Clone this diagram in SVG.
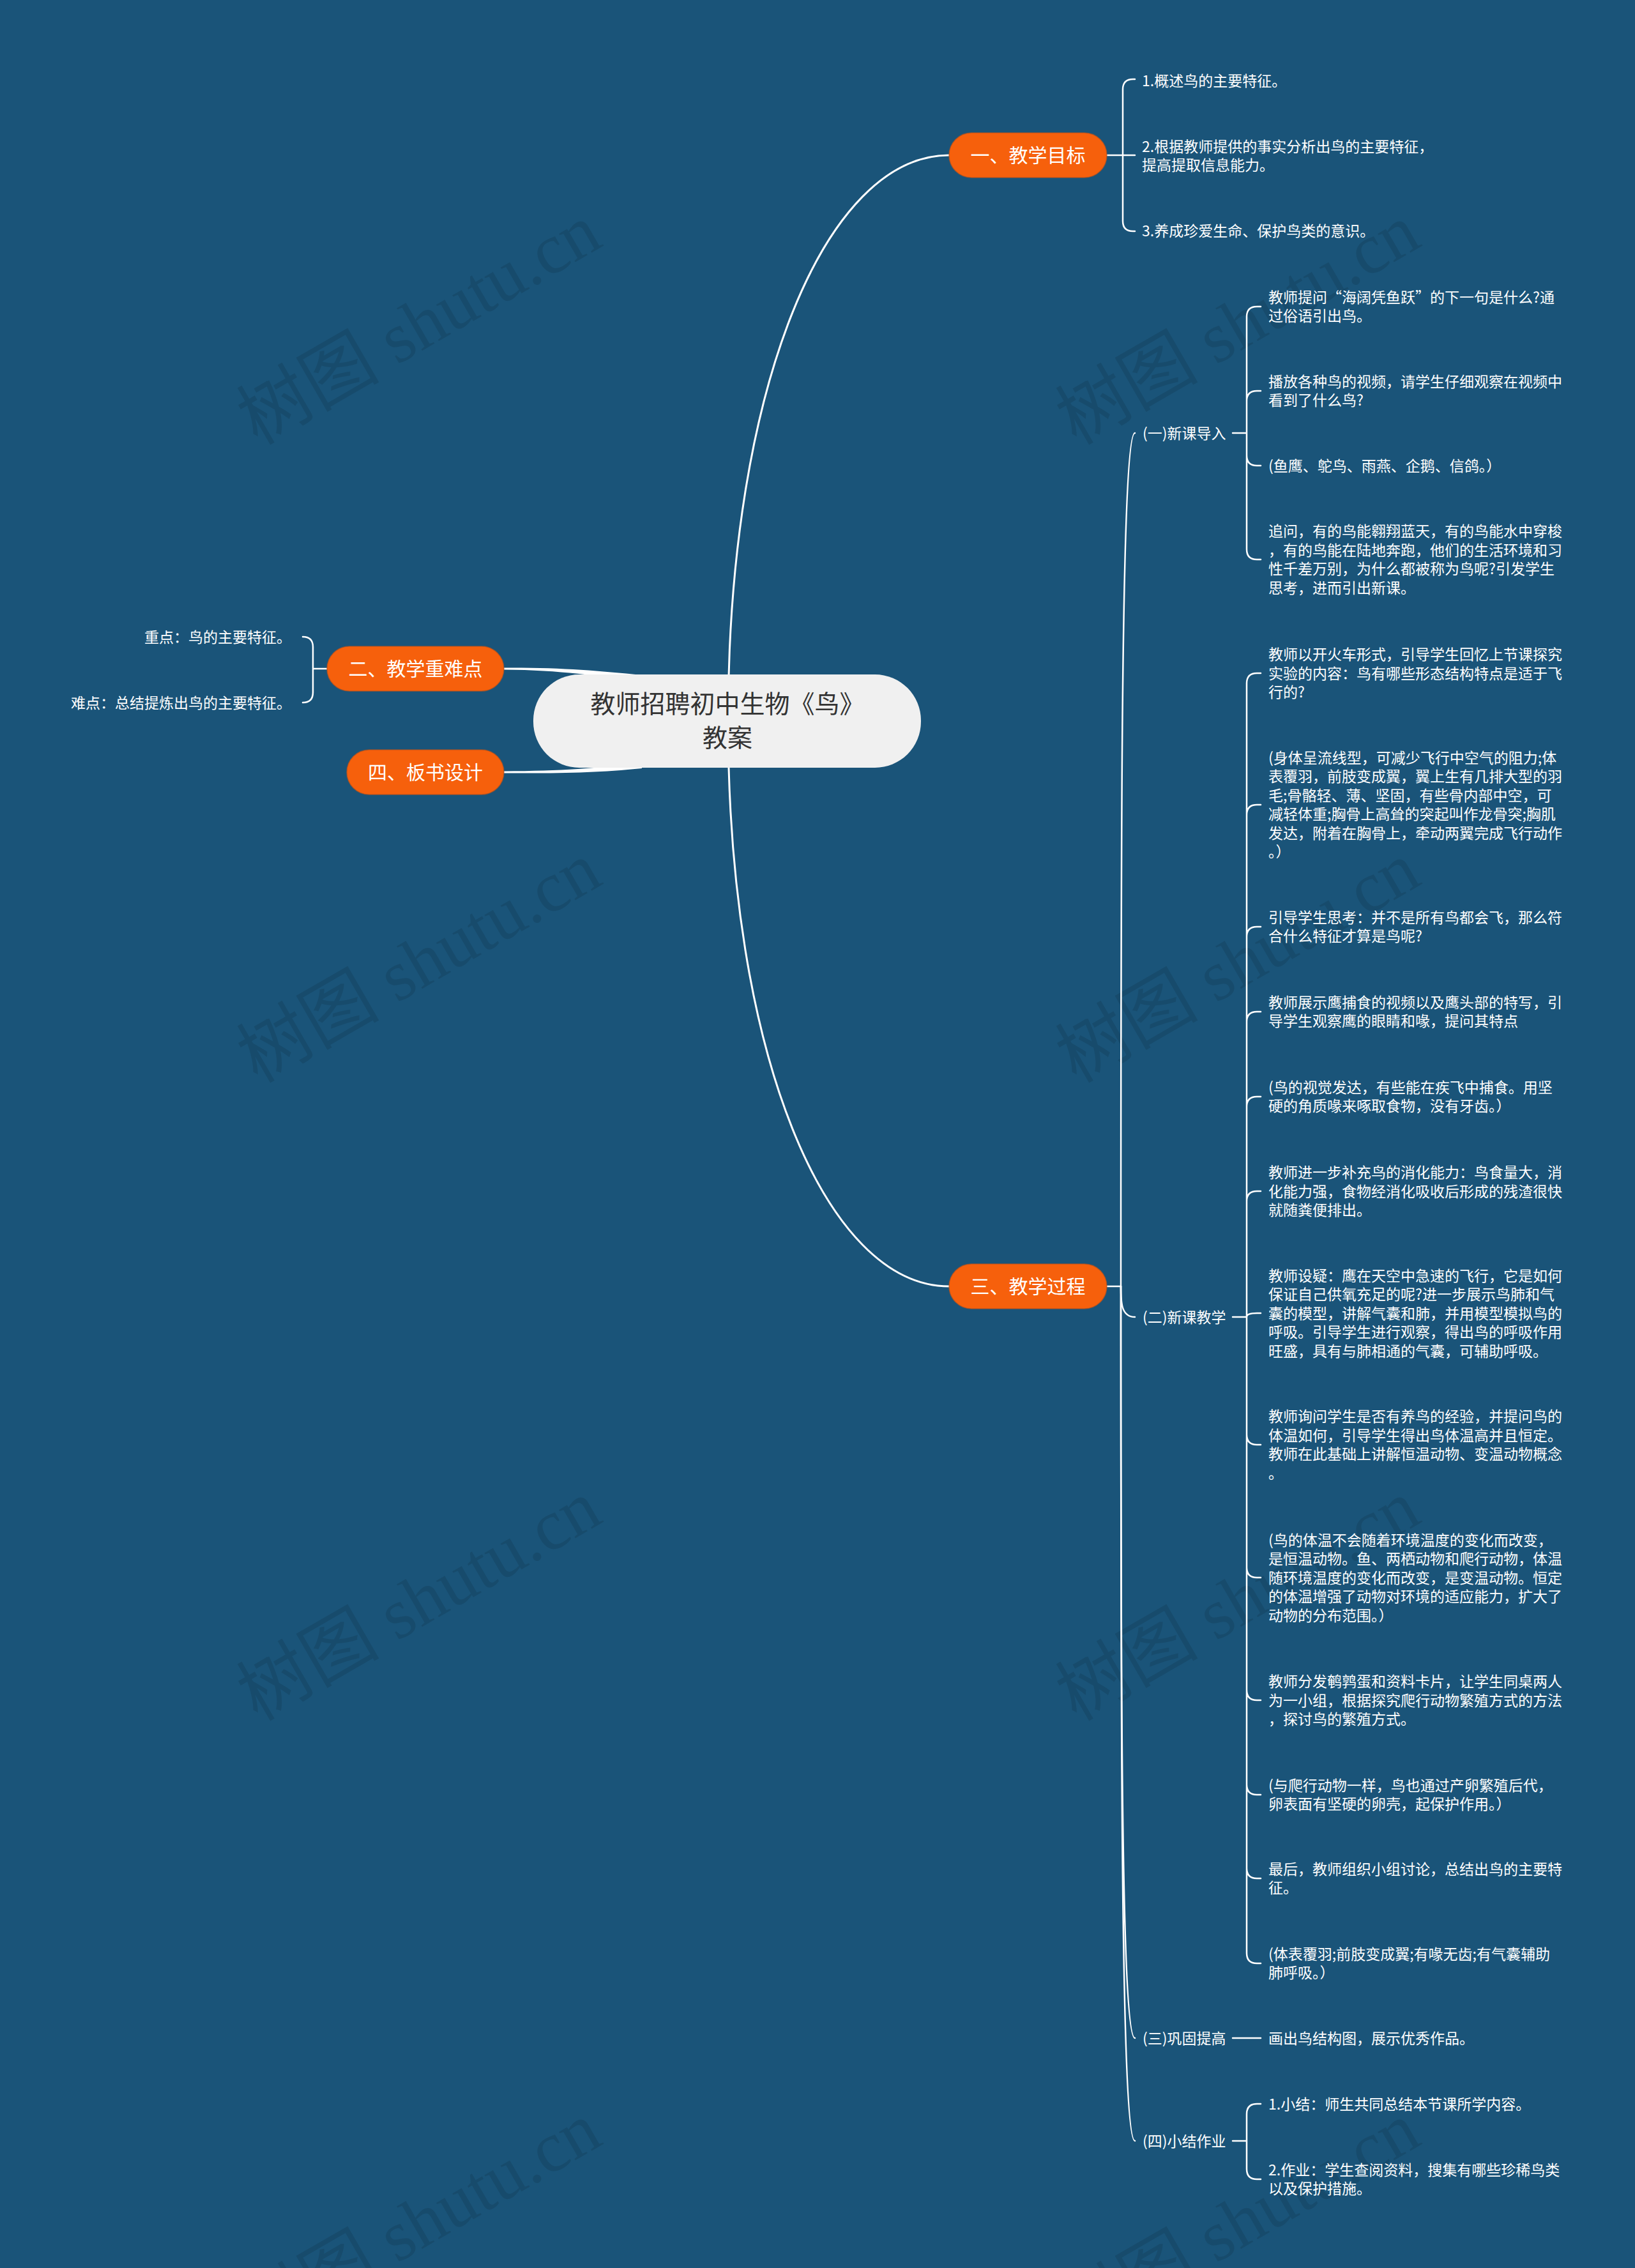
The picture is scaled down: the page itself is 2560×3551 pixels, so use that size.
<svg xmlns="http://www.w3.org/2000/svg" width="2560" height="3551" viewBox="0 0 2560 3551">
<style>
.ln{fill:none;stroke:#ffffff;stroke-width:2.5;stroke-linecap:round}
.mln{fill:none;stroke:#ffffff;stroke-width:3;stroke-linecap:round}
.t{fill:#ffffff;font-family:"Noto Sans CJK SC","Liberation Sans",sans-serif;font-size:23px}
.onode{fill:#f6600c;stroke:#b9531c;stroke-width:1.5;stroke-opacity:0.7}
.ot{fill:#ffffff;font-family:"Noto Sans CJK SC","Liberation Sans",sans-serif;font-size:30px;text-anchor:middle}
.ct{fill:#333333;font-family:"Noto Sans CJK SC","Liberation Sans",sans-serif;font-size:39px;text-anchor:middle}
.wm{fill:#000000;fill-opacity:0.1;font-family:"Liberation Serif","Noto Sans CJK SC",serif;font-size:112px;text-anchor:middle}
</style>
<rect x="0" y="0" width="2560" height="3551" fill="#1a5479"/>
<g id="watermarks">
<text class="wm" transform="translate(656,508) rotate(-30)" x="0" y="38">树图 shutu.cn</text>
<text class="wm" transform="translate(1938,508) rotate(-30)" x="0" y="38">树图 shutu.cn</text>
<text class="wm" transform="translate(656,1507) rotate(-30)" x="0" y="38">树图 shutu.cn</text>
<text class="wm" transform="translate(1938,1507) rotate(-30)" x="0" y="38">树图 shutu.cn</text>
<text class="wm" transform="translate(656,2506) rotate(-30)" x="0" y="38">树图 shutu.cn</text>
<text class="wm" transform="translate(1938,2506) rotate(-30)" x="0" y="38">树图 shutu.cn</text>
<text class="wm" transform="translate(656,3480) rotate(-30)" x="0" y="38">树图 shutu.cn</text>
<text class="wm" transform="translate(1938,3480) rotate(-30)" x="0" y="38">树图 shutu.cn</text>
</g>
<g id="connectors">
<path class="mln" d="M1140,1129 C1140,606 1293,243 1486,243"/>
<path class="mln" d="M1140,1129 C1140,1650 1293,2014 1486,2014"/>
<path fill="#ffffff" d="M789,1045.5 C880,1045 935,1050 1005,1057 L1005,1066 C935,1059 880,1049 789,1048.5 Z"/>
<path fill="#ffffff" d="M789,1207.5 C880,1207 935,1203 1005,1194 L1005,1203 C935,1210 880,1211 789,1210.5 Z"/>
<path class="ln" d="M512,1047 H490 M490,1047 V1013 Q490,997 474,997 M490,1047 V1084 Q490,1100 474,1100"/>
<path class="ln" d="M1733,243 H1777 M1758,243 V140 Q1758,124 1774,124 H1777 M1758,243 V346 Q1758,362 1774,362 H1777"/>
<path class="ln" d="M1733,2014 H1755"/>
<path class="ln" d="M1755,2014 C1755,1346 1755,678 1777,678"/>
<path class="ln" d="M1755,2014 C1755,2038 1755,2062 1777,2062"/>
<path class="ln" d="M1755,2014 C1755,2602 1755,3191 1777,3191"/>
<path class="ln" d="M1755,2014 C1755,2683 1755,3352 1777,3352"/>
<path class="ln" d="M1930,678 H1952 M1952,678 V496 Q1952,480 1968,480 H1974 M1952,678 V628 Q1952,612 1968,612 H1974 M1952,678 V713 Q1952,729 1968,729 H1974 M1952,678 V860 Q1952,876 1968,876 H1974"/>
<path class="ln" d="M1930,2062 H1952 M1952,2062 V1070 Q1952,1054 1968,1054 H1974 M1952,2062 V1276 Q1952,1260 1968,1260 H1974 M1952,2062 V1467 Q1952,1451 1968,1451 H1974 M1952,2062 V1600 Q1952,1584 1968,1584 H1974 M1952,2062 V1733 Q1952,1717 1968,1717 H1974 M1952,2062 V1881 Q1952,1865 1968,1865 H1974 M1952,2062 Q1952,2056 1968,2056 H1974 M1952,2062 V2246 Q1952,2262 1968,2262 H1974 M1952,2062 V2454 Q1952,2470 1968,2470 H1974 M1952,2062 V2646 Q1952,2662 1968,2662 H1974 M1952,2062 V2794 Q1952,2810 1968,2810 H1974 M1952,2062 V2925 Q1952,2941 1968,2941 H1974 M1952,2062 V3058 Q1952,3074 1968,3074 H1974"/>
<path class="ln" d="M1930,3191 H1974"/>
<path class="ln" d="M1930,3352 H1952 M1952,3352 V3310 Q1952,3294 1968,3294 H1974 M1952,3352 V3396 Q1952,3412 1968,3412 H1974"/>
</g>
<g id="root">
<rect x="835" y="1056" width="607" height="146" rx="72" fill="#f0f0f0"/>
<text class="ct"><tspan x="1139" y="1116">教师招聘初中生物《鸟》</tspan><tspan x="1139" y="1169">教案</tspan></text>
</g>
<g id="n1">
<rect class="onode" x="1486" y="208" width="247" height="70" rx="35"/>
<text class="ot" x="1609.5" y="254.4">一、教学目标</text>
</g>
<g id="n2">
<rect class="onode" x="512" y="1012" width="277" height="70" rx="35"/>
<text class="ot" x="650.5" y="1058.4">二、教学重难点</text>
</g>
<g id="n4">
<rect class="onode" x="543" y="1174" width="246" height="70" rx="35"/>
<text class="ot" x="666" y="1220.4">四、板书设计</text>
</g>
<g id="n3">
<rect class="onode" x="1486" y="1979" width="247" height="70" rx="35"/>
<text class="ot" x="1609.5" y="2025.4">三、教学过程</text>
</g>
<g id="n2-children">
<text class="t" x="456" y="1005.5" text-anchor="end">重点：鸟的主要特征。</text>
<text class="t" x="456" y="1108.5" text-anchor="end">难点：总结提炼出鸟的主要特征。</text>
</g>
<g id="n1-children">
<text class="t" x="1788" y="134.5">1.概述鸟的主要特征。</text>
<text class="t"><tspan x="1788" y="237.75">2.根据教师提供的事实分析出鸟的主要特征，</tspan><tspan x="1788" y="267.25">提高提取信息能力。</tspan></text>
<text class="t" x="1788" y="370">3.养成珍爱生命、保护鸟类的意识。</text>
</g>
<g id="s1">
<text class="t" x="1789" y="686.5">(一)新课导入</text>
<text class="t"><tspan x="1986" y="473.75">教师提问“海阔凭鱼跃”的下一句是什么?通</tspan><tspan x="1986" y="503.25">过俗语引出鸟。</tspan></text>
<text class="t"><tspan x="1986" y="605.75">播放各种鸟的视频，请学生仔细观察在视频中</tspan><tspan x="1986" y="635.25">看到了什么鸟?</tspan></text>
<text class="t" x="1986" y="737.5">(鱼鹰、鸵鸟、雨燕、企鹅、信鸽。）</text>
<text class="t"><tspan x="1986" y="840.25">追问，有的鸟能翱翔蓝天，有的鸟能水中穿梭</tspan><tspan x="1986" y="869.75">，有的鸟能在陆地奔跑，他们的生活环境和习</tspan><tspan x="1986" y="899.25">性千差万别，为什么都被称为鸟呢?引发学生</tspan><tspan x="1986" y="928.75">思考，进而引出新课。</tspan></text>
</g>
<g id="s2">
<text class="t" x="1789" y="2070.5">(二)新课教学</text>
<text class="t"><tspan x="1986" y="1033">教师以开火车形式，引导学生回忆上节课探究</tspan><tspan x="1986" y="1062.5">实验的内容：鸟有哪些形态结构特点是适于飞</tspan><tspan x="1986" y="1092">行的?</tspan></text>
<text class="t"><tspan x="1986" y="1194.75">(身体呈流线型，可减少飞行中空气的阻力;体</tspan><tspan x="1986" y="1224.25">表覆羽，前肢变成翼，翼上生有几排大型的羽</tspan><tspan x="1986" y="1253.75">毛;骨骼轻、薄、坚固，有些骨内部中空，可</tspan><tspan x="1986" y="1283.25">减轻体重;胸骨上高耸的突起叫作龙骨突;胸肌</tspan><tspan x="1986" y="1312.75">发达，附着在胸骨上，牵动两翼完成飞行动作</tspan><tspan x="1986" y="1342.25">。）</tspan></text>
<text class="t"><tspan x="1986" y="1444.75">引导学生思考：并不是所有鸟都会飞，那么符</tspan><tspan x="1986" y="1474.25">合什么特征才算是鸟呢?</tspan></text>
<text class="t"><tspan x="1986" y="1577.75">教师展示鹰捕食的视频以及鹰头部的特写，引</tspan><tspan x="1986" y="1607.25">导学生观察鹰的眼睛和喙，提问其特点</tspan></text>
<text class="t"><tspan x="1986" y="1710.75">(鸟的视觉发达，有些能在疾飞中捕食。用坚</tspan><tspan x="1986" y="1740.25">硬的角质喙来啄取食物，没有牙齿。）</tspan></text>
<text class="t"><tspan x="1986" y="1844">教师进一步补充鸟的消化能力：鸟食量大，消</tspan><tspan x="1986" y="1873.5">化能力强，食物经消化吸收后形成的残渣很快</tspan><tspan x="1986" y="1903">就随粪便排出。</tspan></text>
<text class="t"><tspan x="1986" y="2005.5">教师设疑：鹰在天空中急速的飞行，它是如何</tspan><tspan x="1986" y="2035">保证自己供氧充足的呢?进一步展示鸟肺和气</tspan><tspan x="1986" y="2064.5">囊的模型，讲解气囊和肺，并用模型模拟鸟的</tspan><tspan x="1986" y="2094">呼吸。引导学生进行观察，得出鸟的呼吸作用</tspan><tspan x="1986" y="2123.5">旺盛，具有与肺相通的气囊，可辅助呼吸。</tspan></text>
<text class="t"><tspan x="1986" y="2226.25">教师询问学生是否有养鸟的经验，并提问鸟的</tspan><tspan x="1986" y="2255.75">体温如何，引导学生得出鸟体温高并且恒定。</tspan><tspan x="1986" y="2285.25">教师在此基础上讲解恒温动物、变温动物概念</tspan><tspan x="1986" y="2314.75">。</tspan></text>
<text class="t"><tspan x="1986" y="2419.5">(鸟的体温不会随着环境温度的变化而改变，</tspan><tspan x="1986" y="2449">是恒温动物。鱼、两栖动物和爬行动物，体温</tspan><tspan x="1986" y="2478.5">随环境温度的变化而改变，是变温动物。恒定</tspan><tspan x="1986" y="2508">的体温增强了动物对环境的适应能力，扩大了</tspan><tspan x="1986" y="2537.5">动物的分布范围。）</tspan></text>
<text class="t"><tspan x="1986" y="2641">教师分发鹌鹑蛋和资料卡片，让学生同桌两人</tspan><tspan x="1986" y="2670.5">为一小组，根据探究爬行动物繁殖方式的方法</tspan><tspan x="1986" y="2700">，探讨鸟的繁殖方式。</tspan></text>
<text class="t"><tspan x="1986" y="2803.75">(与爬行动物一样，鸟也通过产卵繁殖后代，</tspan><tspan x="1986" y="2833.25">卵表面有坚硬的卵壳，起保护作用。）</tspan></text>
<text class="t"><tspan x="1986" y="2934.75">最后，教师组织小组讨论，总结出鸟的主要特</tspan><tspan x="1986" y="2964.25">征。</tspan></text>
<text class="t"><tspan x="1986" y="3067.75">(体表覆羽;前肢变成翼;有喙无齿;有气囊辅助</tspan><tspan x="1986" y="3097.25">肺呼吸。）</tspan></text>
</g>
<g id="s3">
<text class="t" x="1789" y="3199.5">(三)巩固提高</text>
<text class="t" x="1986" y="3199.5">画出鸟结构图，展示优秀作品。</text>
</g>
<g id="s4">
<text class="t" x="1789" y="3360.5">(四)小结作业</text>
<text class="t" x="1986" y="3302.5">1.小结：师生共同总结本节课所学内容。</text>
<text class="t"><tspan x="1986" y="3405.75">2.作业：学生查阅资料，搜集有哪些珍稀鸟类</tspan><tspan x="1986" y="3435.25">以及保护措施。</tspan></text>
</g>
</svg>
